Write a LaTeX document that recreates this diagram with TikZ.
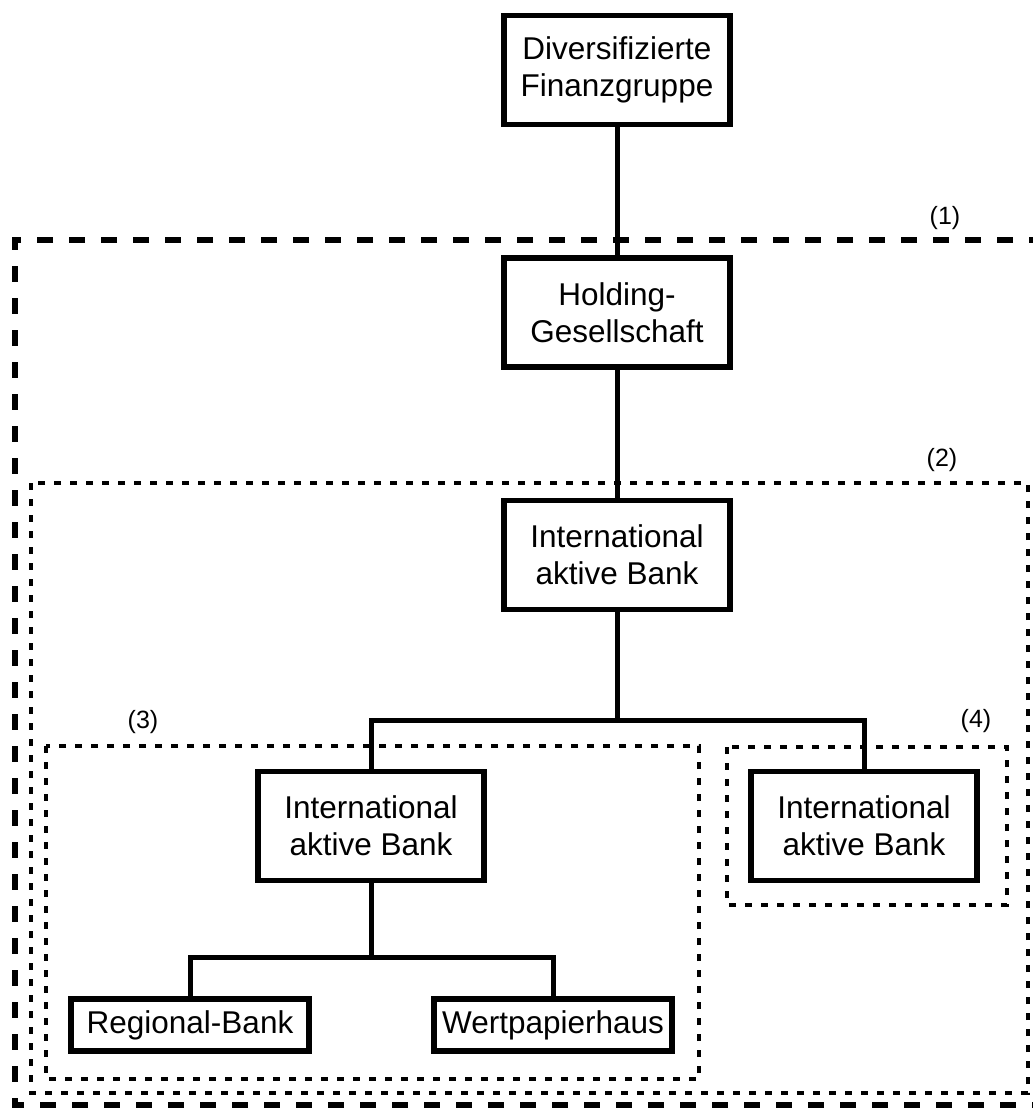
\documentclass[tikz,border=0pt]{standalone}
\usepackage{fontspec}
\setmainfont{Liberation Sans}
\usetikzlibrary{positioning}

\begin{document}
\begin{tikzpicture}
[x=1pt,y=-1pt,
 unit/.style={draw,line width=5.5pt,align=center,minimum width=226pt,
   minimum height=109pt,inner sep=0pt,font=\fontsize{31.5}{37}\selectfont},
 leaf/.style={unit,minimum width=238pt,minimum height=52pt},
 link/.style={line width=5pt},
 outer/.style={line width=5.5pt,dash pattern=on 16pt off 16pt},
 inner/.style={line width=4.5pt,dash pattern=on 7pt off 9pt},
 tag/.style={font=\fontsize{25}{29}\selectfont}]
\useasboundingbox (0,0) rectangle (1033,1108);
% groups
\draw[outer] (1045,240) -- (15,240) -- (15,1105) -- (1045,1105);
\draw[inner] (31,483) rectangle (1028,1093);
\draw[inner] (46,746) rectangle (699,1079);
\draw[inner] (727,747) rectangle (1007,905);
\node[tag](t1) at (945,218){(1)};
\node[tag](t2) at (942,460){(2)};
\node[tag](t3) at (143,722){(3)};
\node[tag](t4) at (976,721){(4)};
% tree
\node[unit](fin) at (617,70){Diversifizierte\\Finanzgruppe};
\node[unit, below=128pt of fin](hold){Holding-\\Gesellschaft};
\node[unit, below=128pt of hold](iab){International\\aktive Bank};
\node[unit](iabl) at (371,826){International\\aktive Bank};
\node[unit](iabr) at (864,826){International\\aktive Bank};
\node[leaf](reg) at (190,1025){Regional-Bank};
\node[leaf](wert) at (553,1025){Wertpapierhaus};
\coordinate (fork1) at (617,720);
\coordinate (fork2) at (371,957);
\draw[link] (fin) -- (hold);
\draw[link] (hold) -- (iab);
\draw[link] (iab) -- (fork1);
\draw[link] (iabl.north) |- (fork1) -| (iabr.north);
\draw[link] (iabl) -- (fork2);
\draw[link] (reg.north) |- (fork2) -| (wert.north);
\end{tikzpicture}
\end{document}
